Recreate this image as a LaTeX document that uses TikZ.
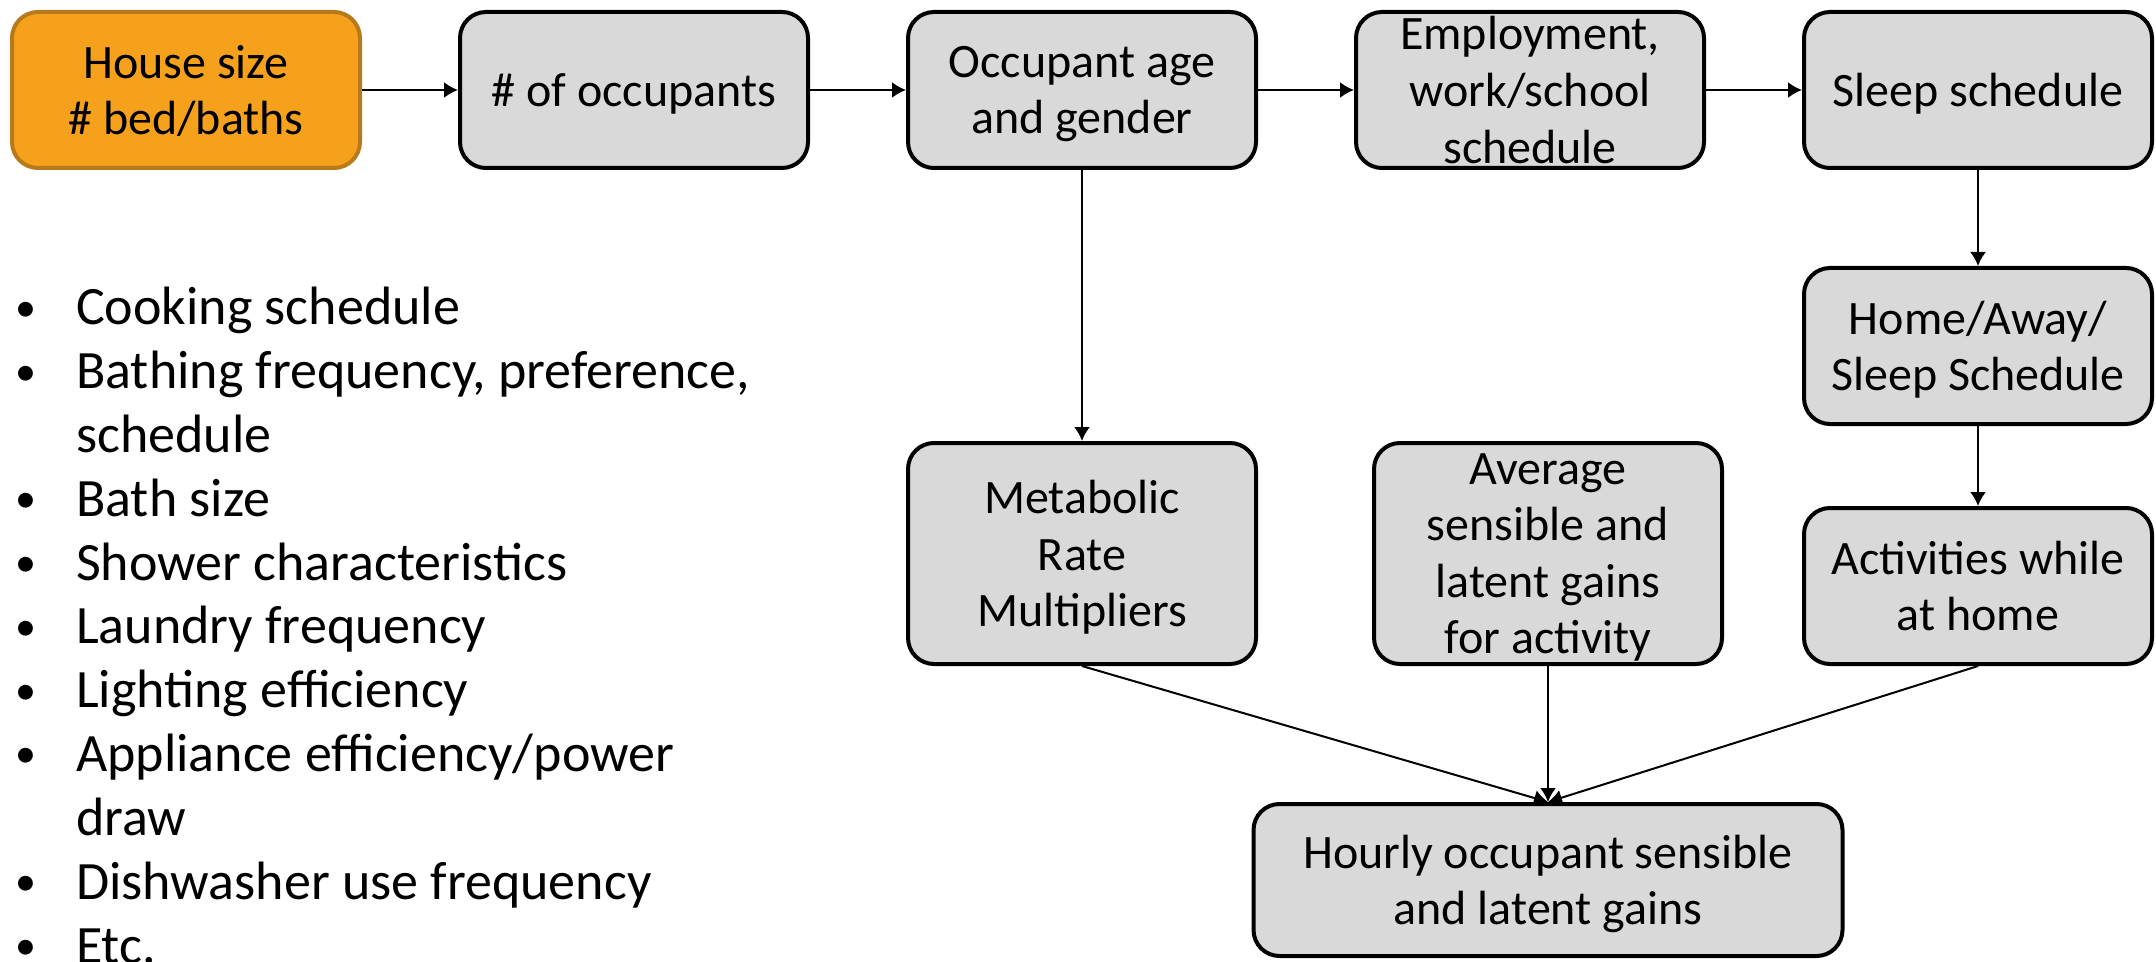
\documentclass[tikz,border=0pt]{standalone}
\usepackage{fontspec}
\setmainfont{Carlito}
\usetikzlibrary{arrows.meta,positioning}

\definecolor{boxgray}{HTML}{D9D9D9}
\definecolor{houseorange}{HTML}{F5A11C}
\definecolor{housebrown}{HTML}{B8791A}

% last text line without its depth, so the text sits as in the slides
\newcommand{\lastline}[1]{\raisebox{0pt}[\height][0pt]{#1}}
\newcommand{\itembullet}{\raisebox{1.8pt}{\fontsize{21}{21}\selectfont\textbullet}}

\tikzset{
  stage/.style={draw=black, line width=2pt, fill=boxgray, rounded corners=13pt,
                minimum width=174pt, minimum height=78pt, inner sep=0pt,
                align=center, font=\fontsize{24}{28.3}\selectfont},
  input/.style={stage, draw=housebrown, fill=houseorange},
  factors/.style={inner sep=0pt, font=\fontsize{27}{31.9}\selectfont}
}

\begin{document}
\begin{tikzpicture}[x=0.5pt,y=-0.5pt,->,>={Latex[length=7pt,width=8pt]},
                    line width=1pt,node distance=48pt]
  \useasboundingbox (0,0) rectangle (2156,962);

  \node[input]  (house)                 at (186,90) {House size\\\lastline{\# bed/baths}};
  \node[stage]  (occ)   [right=of house] {\lastline{\# of occupants}};
  \node[stage]  (age)   [right=of occ]   {Occupant age\\\lastline{and gender}};
  \node[stage]  (emp)   [right=of age]   {Employment,\\work/school\\schedule};
  \node[stage]  (sleep) [right=of emp]   {\lastline{Sleep schedule}};
  \node[stage]  (home)  [below=of sleep] {Home/Away/\\\lastline{Sleep Schedule}};
  \node[stage]  (acts)  [below=40pt of home] {Activities while\\at home};
  \node[stage, minimum height=110.5pt] (metab) [below=135.5pt of age]
        {Metabolic\\Rate\\\lastline{Multipliers}};
  \node[stage, minimum height=110.5pt] (avg)   [right=57pt of metab]
        {Average\\sensible and\\latent gains\\\lastline{for activity}};
  \node[stage, minimum width=294.5pt, minimum height=76pt] (hourly) [below=68pt of avg]
        {Hourly occupant sensible\\\lastline{and latent gains}};

  \node[factors, anchor=base west] (list) at (14,325) {%
    \begin{tabular}[t]{@{}p{30.6pt}@{}l@{}}
      \itembullet & Cooking schedule\\
      \itembullet & Bathing frequency, preference,\\
                  & schedule\\
      \itembullet & Bath size\\
      \itembullet & Shower characteristics\\
      \itembullet & Laundry frequency\\
      \itembullet & Lighting efficiency\\
      \itembullet & Appliance efficiency/power\\
                  & draw\\
      \itembullet & Dishwasher use frequency\\
      \itembullet & Etc.
    \end{tabular}};

  \path (house) edge (occ)
        (occ)   edge (age)
        (age)   edge (emp)
                edge (metab)
        (emp)   edge (sleep)
        (sleep) edge (home)
        (home)  edge (acts)
        (metab.south) edge (hourly.north)
        (avg)   edge (hourly)
        (acts.south)  edge (hourly.north);
\end{tikzpicture}
\end{document}
